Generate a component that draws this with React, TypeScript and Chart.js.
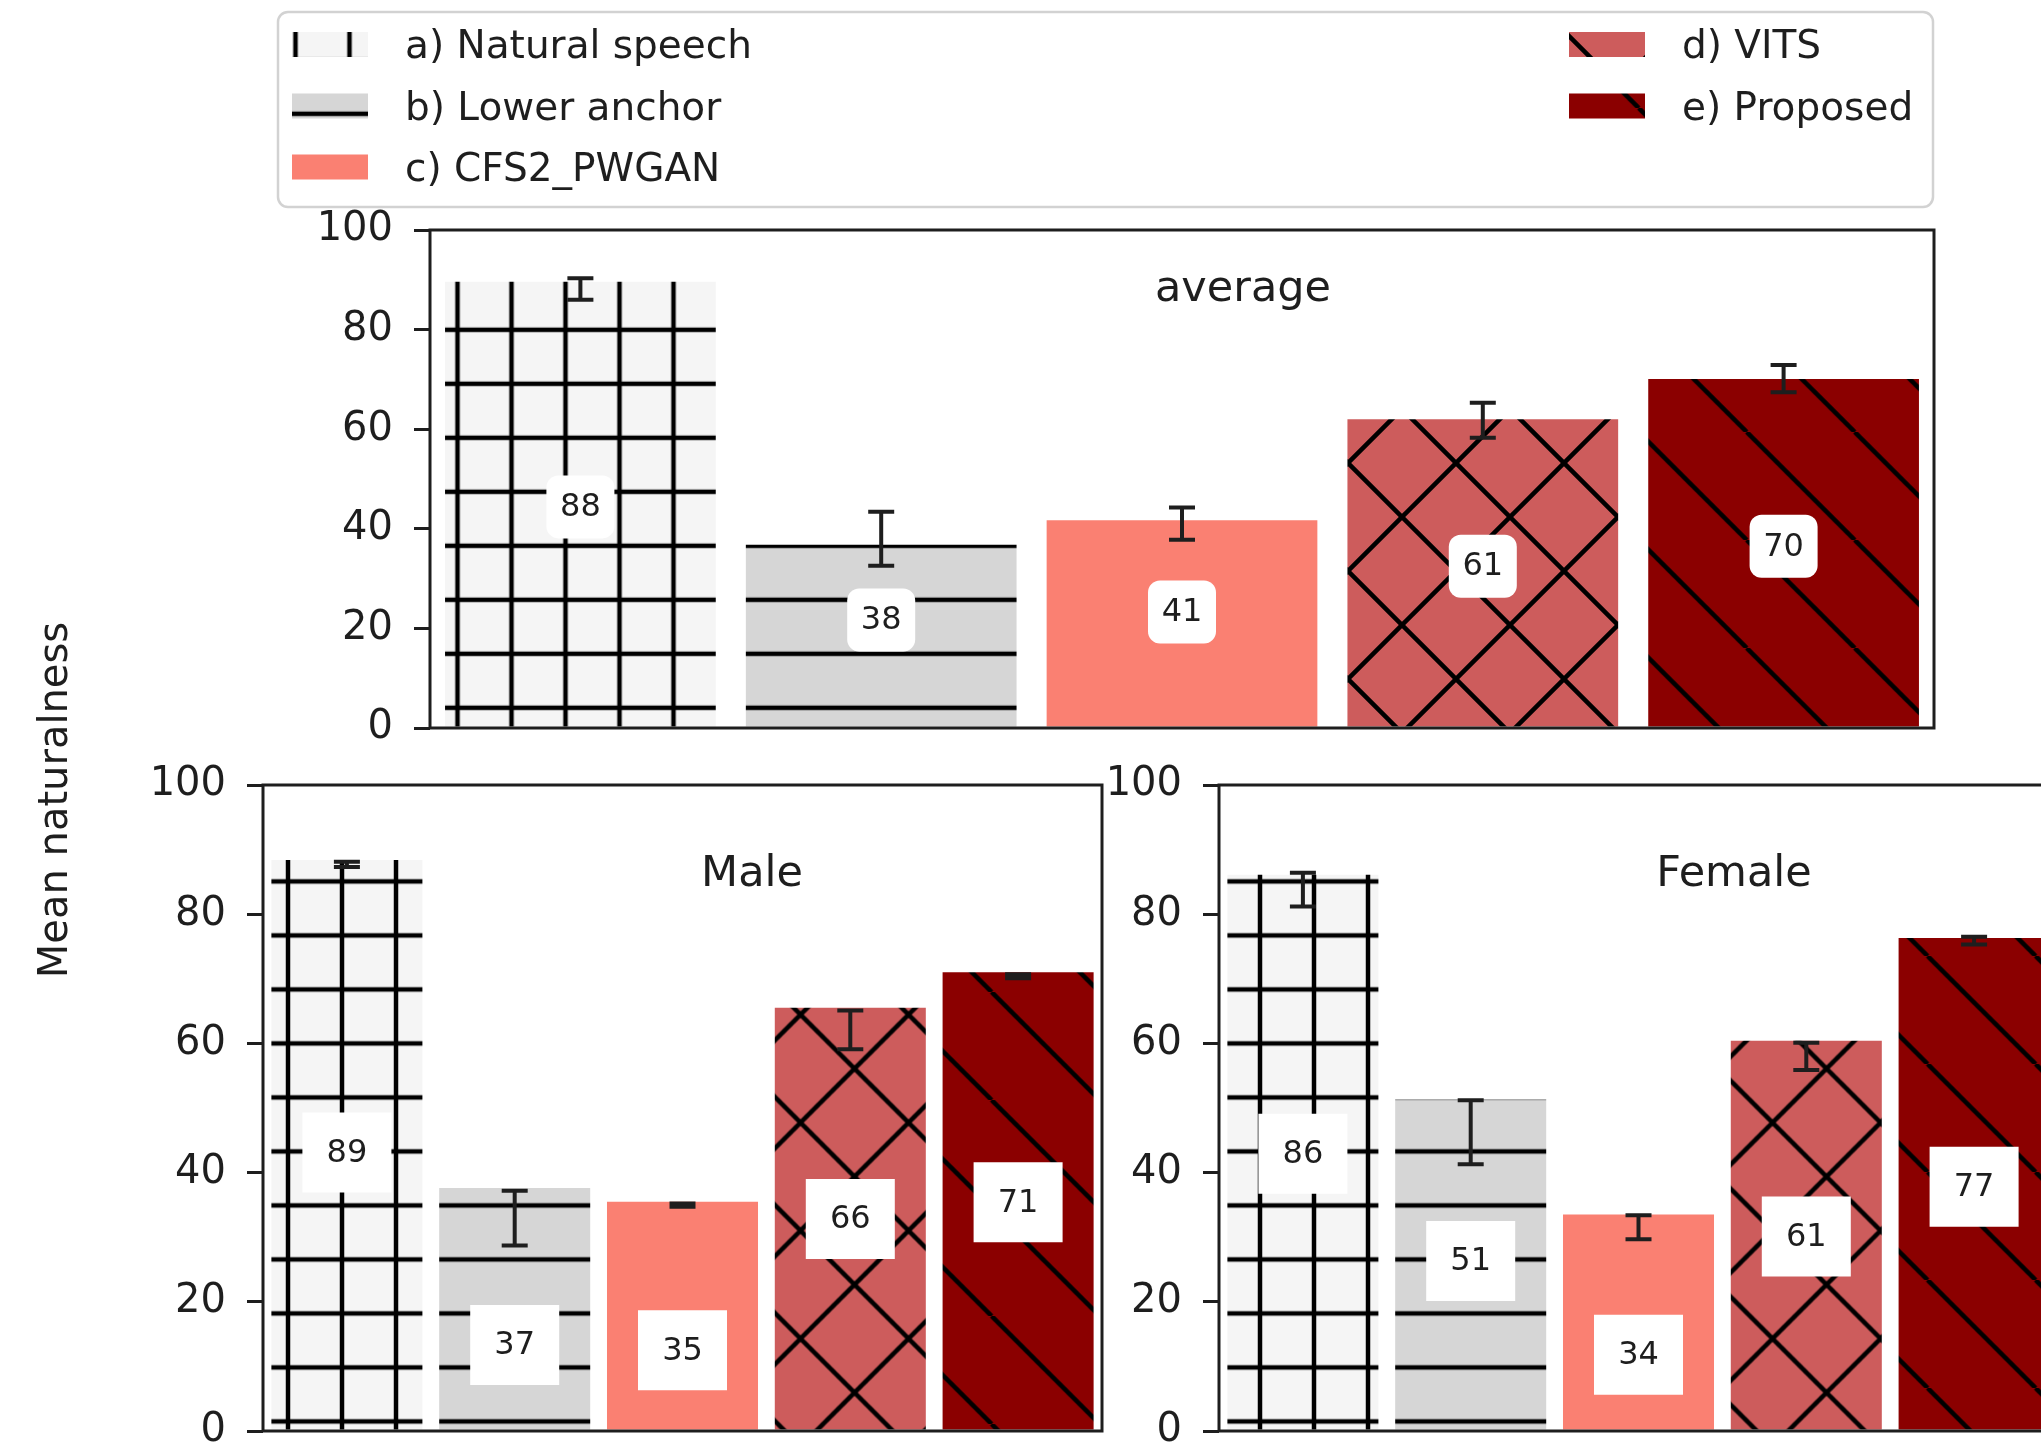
import React, { useEffect, useRef } from "react";
import { Chart, registerables } from "chart.js";

Chart.register(...registerables);

// ---------------- data ----------------
const systems = ["a) Natural speech", "b) Lower anchor", "c) CFS2_PWGAN", "d) VITS", "e) Proposed"];
const yTicks = [0, 20, 40, 60, 80, 100];
const yAxisTitle = "Mean naturalness";

const averageScores = [89.6, 36.8, 41.7, 62.0, 70.1];
const averageLabels = ["88", "38", "41", "61", "70"];
const averageCiLow = [86.0, 32.6, 37.8, 58.3, 67.4];
const averageCiHigh = [90.3, 43.4, 44.3, 65.3, 72.9];
const averageLabelAt = [44.4, 21.7, 23.3, 32.5, 36.5];

const maleScores = [88.4, 37.6, 35.5, 65.5, 71.0];
const maleLabels = ["89", "37", "35", "66", "71"];
const maleCiLow = [87.3, 28.7, 34.7, 59.1, 70.1];
const maleCiHigh = [88.1, 37.2, 35.2, 65.1, 70.7];
const maleLabelAt = [43.1, 13.3, 12.5, 32.8, 35.4];

const femaleScores = [86.1, 51.3, 33.5, 60.4, 76.3];
const femaleLabels = ["86", "51", "34", "61", "77"];
const femaleCiLow = [81.2, 41.3, 29.7, 55.9, 75.3];
const femaleCiHigh = [86.4, 51.2, 33.4, 60.1, 76.5];
const femaleLabelAt = [42.9, 26.3, 11.8, 30.1, 37.8];

// ---------------- styles ----------------
const FONT = '"DejaVu Sans", "Liberation Sans", sans-serif';
const INK = "#1e1e1e";
const barColors = ["#f5f5f5", "#d6d6d6", "#fa8072", "#cd5c5c", "#8b0000"];
const hatches = ["+", "-", "", "x", "\\"];

type Phase = { vx: number; hy: number; cx: number; cy: number; bs: number };
type PanelDef = {
  title: string;
  scores: number[];
  labels: string[];
  ciLow: number[];
  ciHigh: number[];
  labelAt: number[];
  canvas: { left: number; top: number; w: number; h: number };
  area: { left: number; top: number; right: number; bottom: number };
  titleAt: [number, number];
  box: { w: number; h: number; r: number };
  phase: Phase;
  legend?: boolean;
  yTitle?: boolean;
};

const topPhase: Phase = { vx: 295.5, hy: 329.8, cx: 1456, cy: 463, bs: 1314.7 };
const bottomPhase: Phase = { vx: 288, hy: 881.4, cx: 1448.5, cy: 474.6, bs: 1295.6 };

const panels: PanelDef[] = [
  {
    title: "average",
    scores: averageScores,
    labels: averageLabels,
    ciLow: averageCiLow,
    ciHigh: averageCiHigh,
    labelAt: averageLabelAt,
    canvas: { left: 0, top: 0, w: 2041, h: 800 },
    area: { left: 430, top: 230, right: 1934, bottom: 728 },
    titleAt: [1243, 301],
    box: { w: 68, h: 63, r: 12 },
    phase: topPhase,
    legend: true,
  },
  {
    title: "Male",
    scores: maleScores,
    labels: maleLabels,
    ciLow: maleCiLow,
    ciHigh: maleCiHigh,
    labelAt: maleLabelAt,
    canvas: { left: 0, top: 560, w: 1106, h: 940 },
    area: { left: 263, top: 785, right: 1102, bottom: 1431 },
    titleAt: [752, 886],
    box: { w: 89, h: 80, r: 0 },
    phase: bottomPhase,
    yTitle: true,
  },
  {
    title: "Female",
    scores: femaleScores,
    labels: femaleLabels,
    ciLow: femaleCiLow,
    ciHigh: femaleCiHigh,
    labelAt: femaleLabelAt,
    canvas: { left: 1090, top: 740, w: 980, h: 760 },
    area: { left: 1219, top: 785, right: 2058, bottom: 1431 },
    titleAt: [1734, 886],
    box: { w: 89, h: 80, r: 0 },
    phase: bottomPhase,
  },
];

function makeHatch(
  ctx: CanvasRenderingContext2D,
  hatch: string,
  color: string,
  cl: number,
  ct: number,
  ph: Phase
): CanvasPattern | string {
  const P = hatch === "+" || hatch === "-" ? 54 : 108;
  const tile = document.createElement("canvas");
  tile.width = P;
  tile.height = P;
  const t = tile.getContext("2d")!;
  t.fillStyle = color;
  t.fillRect(0, 0, P, P);
  t.strokeStyle = "#000";
  t.lineWidth = 4.5;
  if (hatch === "+" || hatch === "-") {
    t.beginPath();
    t.moveTo(0, P / 2);
    t.lineTo(P, P / 2);
    t.stroke();
  }
  if (hatch === "+") {
    t.beginPath();
    t.moveTo(P / 2, 0);
    t.lineTo(P / 2, P);
    t.stroke();
  }
  if (hatch === "x" || hatch === "\\") {
    for (const d of [-P, 0, P]) {
      t.beginPath();
      t.moveTo(d, 0);
      t.lineTo(d + P, P);
      t.stroke();
    }
  }
  if (hatch === "x") {
    for (const d of [-P, 0, P]) {
      t.beginPath();
      t.moveTo(d, P);
      t.lineTo(d + P, 0);
      t.stroke();
    }
  }
  const pat = ctx.createPattern(tile, "repeat");
  if (!pat) return color;
  let m = new DOMMatrix();
  if (hatch === "+" || hatch === "-") m = m.translate(ph.vx - P / 2 - cl, ph.hy - P / 2 - ct);
  else if (hatch === "x") m = m.translate(ph.cx - cl, ph.cy - ct);
  else m = m.translate(ph.bs - cl + ct, 0);
  pat.setTransform(m);
  return pat;
}

function drawLegend(c: CanvasRenderingContext2D, fills: (CanvasPattern | string)[]) {
  c.save();
  c.fillStyle = "rgba(255,255,255,0.85)";
  c.strokeStyle = "#d2d2d2";
  c.lineWidth = 2.5;
  c.beginPath();
  c.roundRect(278, 12, 1655, 195, 10);
  c.fill();
  c.stroke();
  const pos: [number, number][] = [
    [292, 44.5],
    [292, 106],
    [292, 167],
    [1569, 44.5],
    [1569, 106],
  ];
  c.font = `39px ${FONT}`;
  c.textAlign = "left";
  c.textBaseline = "alphabetic";
  systems.forEach((name, i) => {
    const [x, cy] = pos[i];
    c.fillStyle = fills[i] as any;
    c.fillRect(x, cy - 12.5, 76, 25);
    c.fillStyle = INK;
    c.fillText(name, x + 113, cy + 13.5);
  });
  c.restore();
}

function buildChart(canvas: HTMLCanvasElement, p: PanelDef) {
  const ctx = canvas.getContext("2d")!;
  const cl = p.canvas.left;
  const ct = p.canvas.top;
  const fills = barColors.map((col, i) => (hatches[i] ? makeHatch(ctx, hatches[i], col, cl, ct, p.phase) : col));
  const padTop = p.area.top - ct;
  const padBottom = ct + p.canvas.h - p.area.bottom;
  const padRight = cl + p.canvas.w - p.area.right;
  const axisWidth = p.area.left - cl;

  const extras = {
    id: "panelExtras",
    afterDatasetsDraw(chart: any) {
      const c: CanvasRenderingContext2D = chart.ctx;
      const area = chart.chartArea;
      const xs = chart.scales.x;
      const ys = chart.scales.y;
      c.save();
      // error bars
      c.strokeStyle = INK;
      c.lineWidth = 4;
      p.ciLow.forEach((lo, i) => {
        const x = xs.getPixelForValue(i);
        const y1 = ys.getPixelForValue(lo);
        const y2 = ys.getPixelForValue(p.ciHigh[i]);
        c.beginPath();
        c.moveTo(x, y1);
        c.lineTo(x, y2);
        c.moveTo(x - 13, y1);
        c.lineTo(x + 13, y1);
        c.moveTo(x - 13, y2);
        c.lineTo(x + 13, y2);
        c.stroke();
      });
      // frame
      c.lineWidth = 3;
      c.strokeRect(area.left, area.top, area.right - area.left, area.bottom - area.top);
      // value labels
      c.font = `32px ${FONT}`;
      c.textAlign = "center";
      c.textBaseline = "middle";
      p.labels.forEach((txt, i) => {
        const x = xs.getPixelForValue(i);
        const y = ys.getPixelForValue(p.labelAt[i]);
        c.fillStyle = "#ffffff";
        c.beginPath();
        if (p.box.r > 0) c.roundRect(x - p.box.w / 2, y - p.box.h / 2, p.box.w, p.box.h, p.box.r);
        else c.rect(x - p.box.w / 2, y - p.box.h / 2, p.box.w, p.box.h);
        c.fill();
        c.fillStyle = INK;
        c.fillText(txt, x, y + 1);
      });
      // panel title
      c.font = `43px ${FONT}`;
      c.textBaseline = "alphabetic";
      c.textAlign = "center";
      c.fillStyle = INK;
      c.fillText(p.title, p.titleAt[0] - cl, p.titleAt[1] - ct);
      // shared y title
      if (p.yTitle) {
        c.save();
        c.translate(67 - cl, 800 - ct);
        c.rotate(-Math.PI / 2);
        c.font = `40px ${FONT}`;
        c.textAlign = "center";
        c.textBaseline = "alphabetic";
        c.fillText(yAxisTitle, 0, 0);
        c.restore();
      }
      if (p.legend) drawLegend(c, fills);
      c.restore();
    },
  };

  return new Chart(canvas, {
    type: "bar",
    data: {
      labels: systems,
      datasets: [
        {
          data: p.scores,
          backgroundColor: fills as any,
          borderWidth: 0,
          barPercentage: 0.9,
          categoryPercentage: 1,
        },
      ],
    },
    options: {
      animation: false,
      responsive: false,
      maintainAspectRatio: false,
      devicePixelRatio: 1,
      events: [],
      layout: { padding: { left: 0, top: padTop, right: padRight, bottom: padBottom } },
      plugins: {
        legend: { display: false },
        tooltip: { enabled: false },
        title: { display: false },
      },
      scales: {
        x: { type: "category", display: false, offset: true },
        y: {
          min: 0,
          max: 100,
          afterBuildTicks: (scale: any) => {
            scale.ticks = yTicks.map((v) => ({ value: v }));
          },
          afterFit: (scale: any) => {
            scale.width = axisWidth;
          },
          ticks: {
            font: { family: FONT, size: 40 },
            color: INK,
            padding: 21,
          },
          grid: {
            display: true,
            drawOnChartArea: false,
            drawTicks: true,
            tickLength: 16,
            tickWidth: 3,
            tickColor: INK,
            color: INK,
            lineWidth: 3,
          },
          border: { display: false },
        },
      },
    } as any,
    plugins: [extras],
  });
}

export default function App() {
  const r0 = useRef<HTMLCanvasElement>(null);
  const r1 = useRef<HTMLCanvasElement>(null);
  const r2 = useRef<HTMLCanvasElement>(null);
  const refs = [r0, r1, r2];

  useEffect(() => {
    const charts = panels.map((p, i) => buildChart(refs[i].current!, p));
    return () => charts.forEach((ch) => ch.destroy());
  }, []);

  return (
    <div
      style={{
        position: "fixed",
        left: 0,
        top: 0,
        width: 2041,
        height: 1452,
        overflow: "hidden",
        background: "#ffffff",
      }}
    >
      {panels.map((p, i) => (
        <div
          key={p.title}
          style={{ position: "absolute", left: p.canvas.left, top: p.canvas.top, width: p.canvas.w, height: p.canvas.h }}
        >
          <canvas
            ref={refs[i]}
            width={p.canvas.w}
            height={p.canvas.h}
            style={{ width: p.canvas.w, height: p.canvas.h, display: "block" }}
          />
        </div>
      ))}
    </div>
  );
}
